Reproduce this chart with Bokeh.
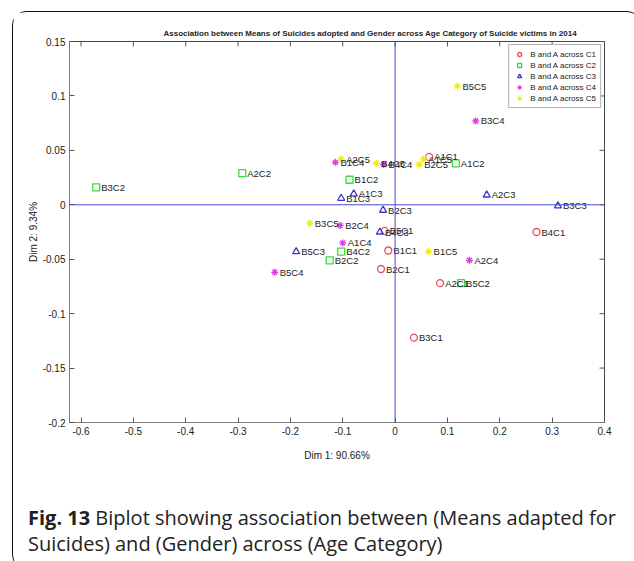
from bokeh.plotting import figure
from bokeh.models import (ColumnDataSource, FixedTicker, Span, Div, Range1d)
from bokeh.layouts import column
from bokeh.embed import file_html
from bokeh.resources import INLINE
from bokeh.core.properties import value
import math

# ---------------- data ----------------
title_text = "Association between Means of Suicides adopted and Gender across Age Category of Suicide victims in 2014"
x_label = "Dim 1: 90.66%"
y_label = "Dim 2: 9.34%"

x_ticks = [-0.6, -0.5, -0.4, -0.3, -0.2, -0.1, 0, 0.1, 0.2, 0.3, 0.4]
x_tick_labels = ["-0.6", "-0.5", "-0.4", "-0.3", "-0.2", "-0.1", "0", "0.1", "0.2", "0.3", "0.4"]
y_ticks = [-0.2, -0.15, -0.1, -0.05, 0, 0.05, 0.1, 0.15]
y_tick_labels = ["-0.2", "-0.15", "-0.1", "-0.05", "0", "0.05", "0.1", "0.15"]

series_names = ["B and A across C1", "B and A across C2", "B and A across C3",
                "B and A across C4", "B and A across C5"]

c1_names = ["A1C1", "A2C1", "B1C1", "B2C1", "B3C1", "B4C1", "B5C1"]
c1_x = [0.065, 0.086, -0.013, -0.027, 0.036, 0.270, -0.020]
c1_y = [0.044, -0.072, -0.042, -0.059, -0.122, -0.025, -0.024]

c2_names = ["A1C2", "A2C2", "B1C2", "B2C2", "B3C2", "B4C2", "B5C2"]
c2_x = [0.116, -0.292, -0.087, -0.125, -0.571, -0.103, 0.126]
c2_y = [0.038, 0.029, 0.023, -0.051, 0.016, -0.043, -0.072]

c3_names = ["A1C3", "A2C3", "B1C3", "B2C3", "B3C3", "B4C3", "B5C3"]
c3_x = [-0.079, 0.175, -0.103, -0.023, 0.311, -0.029, -0.189]
c3_y = [0.010, 0.009, 0.006, -0.005, -0.001, -0.025, -0.043]

c4_names = ["A1C4", "A2C4", "B1C4", "B2C4", "B3C4", "B4C4", "B5C4"]
c4_x = [-0.100, 0.142, -0.114, -0.105, 0.154, -0.022, -0.230]
c4_y = [-0.035, -0.051, 0.039, -0.019, 0.077, 0.037, -0.062]

c5_names = ["A1C5", "A2C5", "B1C5", "B2C5", "B3C5", "B4C5", "B5C5"]
c5_x = [0.054, -0.103, 0.064, 0.046, -0.163, -0.036, 0.119]
c5_y = [0.042, 0.042, -0.043, 0.037, -0.017, 0.038, 0.109]

caption_bold = "Fig. 13"
caption_line1 = "Biplot showing association between (Means adapted for"
caption_line2 = "Suicides) and (Gender) across (Age Category)"

# ---------------- figure ----------------
x_lo, x_hi = -0.622, x_ticks[-1]
y_lo, y_hi = y_ticks[0], y_ticks[-1]

p = figure(width=617, height=459,
           x_range=Range1d(x_lo, x_hi), y_range=Range1d(y_lo, y_hi),
           output_backend="svg", toolbar_location=None,
           min_border_left=56, min_border_right=26,
           min_border_top=29, min_border_bottom=49,
           background_fill_color="white", border_fill_color="white")

p.title.text = title_text
p.title.align = "left"
p.title.offset = 94
p.title.text_font = "Liberation Sans, Arial, sans-serif"
p.title.text_font_size = "8px"
p.title.text_font_style = "bold"
p.title.text_color = "#222222"
p.title.standoff = 7

p.xgrid.visible = False
p.ygrid.visible = False
p.outline_line_color = "#444444"
p.outline_line_width = 1

axis_font = "Liberation Sans, Arial, sans-serif"
for ax, ticks, labels in ((p.xaxis[0], x_ticks, x_tick_labels), (p.yaxis[0], y_ticks, y_tick_labels)):
    ax.ticker = FixedTicker(ticks=ticks)
    ax.major_label_overrides = {t: l for t, l in zip(ticks, labels)}
    ax.minor_tick_line_color = None
    ax.major_tick_in = 5
    ax.major_tick_out = 0
    ax.axis_line_color = "#808080"
    ax.major_tick_line_color = "#555555"
    ax.major_label_text_font = axis_font
    ax.major_label_text_font_size = "10px"
    ax.major_label_text_color = "#222222"
    ax.axis_label_text_font = axis_font
    ax.axis_label_text_font_size = "10px"
    ax.axis_label_text_font_style = "normal"
    ax.axis_label_text_color = "#222222"
    ax.major_label_standoff = 4

p.xaxis.axis_label = x_label
p.yaxis.axis_label = y_label
p.xaxis.axis_label_standoff = 12
p.yaxis.axis_label_standoff = 1

# mirrored ticks on the top and right edges (half of each dash is clipped by the frame)
p.scatter(x_ticks, [y_hi] * len(x_ticks), marker="dash", size=10, angle=math.pi / 2,
          line_color="#555555", line_width=1)
p.scatter([x_hi] * len(y_ticks), y_ticks, marker="dash", size=10,
          line_color="#555555", line_width=1)

# zero lines
p.add_layout(Span(location=0, dimension="width", line_color="#4a4ad0", line_width=1))
p.add_layout(Span(location=0, dimension="height", line_color="#4a4ad0", line_width=1))

series = [
    (c1_names, c1_x, c1_y, "circle", "#e8505a"),
    (c2_names, c2_x, c2_y, "square", "#3cdc3c"),
    (c3_names, c3_x, c3_y, "triangle", "#3a3ac8"),
    (c4_names, c4_x, c4_y, "asterisk", "#e03ce0"),
    (c5_names, c5_x, c5_y, "asterisk", "#f0f000"),
]

for (names, xs, ys, mk, col), lab in zip(series, series_names):
    src = ColumnDataSource(dict(x=xs, y=ys, name=names))
    p.scatter("x", "y", source=src, marker=mk, size=7, fill_color=None,
              line_color=col, line_width=1.3, legend_label=lab)

for (names, xs, ys, mk, col) in series:
    src = ColumnDataSource(dict(x=xs, y=ys, name=names))
    p.text("x", "y", text="name", source=src, x_offset=5, text_baseline="middle",
           text_font=value("Liberation Sans"), text_font_size="9.5px", text_color="#222222")

p.legend.location = "top_right"
p.legend.border_line_color = "#666666"
p.legend.border_line_width = 1
p.legend.label_text_font = "Liberation Sans, Arial, sans-serif"
p.legend.label_text_font_size = "8px"
p.legend.label_text_color = "#222222"
p.legend.glyph_width = 12
p.legend.glyph_height = 10
p.legend.label_height = 10
p.legend.label_standoff = 5
p.legend.spacing = 1
p.legend.padding = 4
p.legend.margin = 3
p.legend.background_fill_alpha = 1

cap = Div(text=(
    '<div style="font-family:\'Open Sans\',sans-serif;font-size:20px;line-height:26px;'
    'color:#222;padding-left:10px;padding-top:29px;white-space:nowrap;">'
    '<b>' + caption_bold + '</b> ' + caption_line1 + '<br>' + caption_line2 + '</div>'),
    width=617, height=87)

layout = column(p, cap, margin=(11, 0, 0, 12),
                styles={"border": "1.5px solid #111", "border-radius": "14px",
                        "background": "white"})

with open("out.html", "w") as f:
    f.write(file_html(layout, INLINE))
